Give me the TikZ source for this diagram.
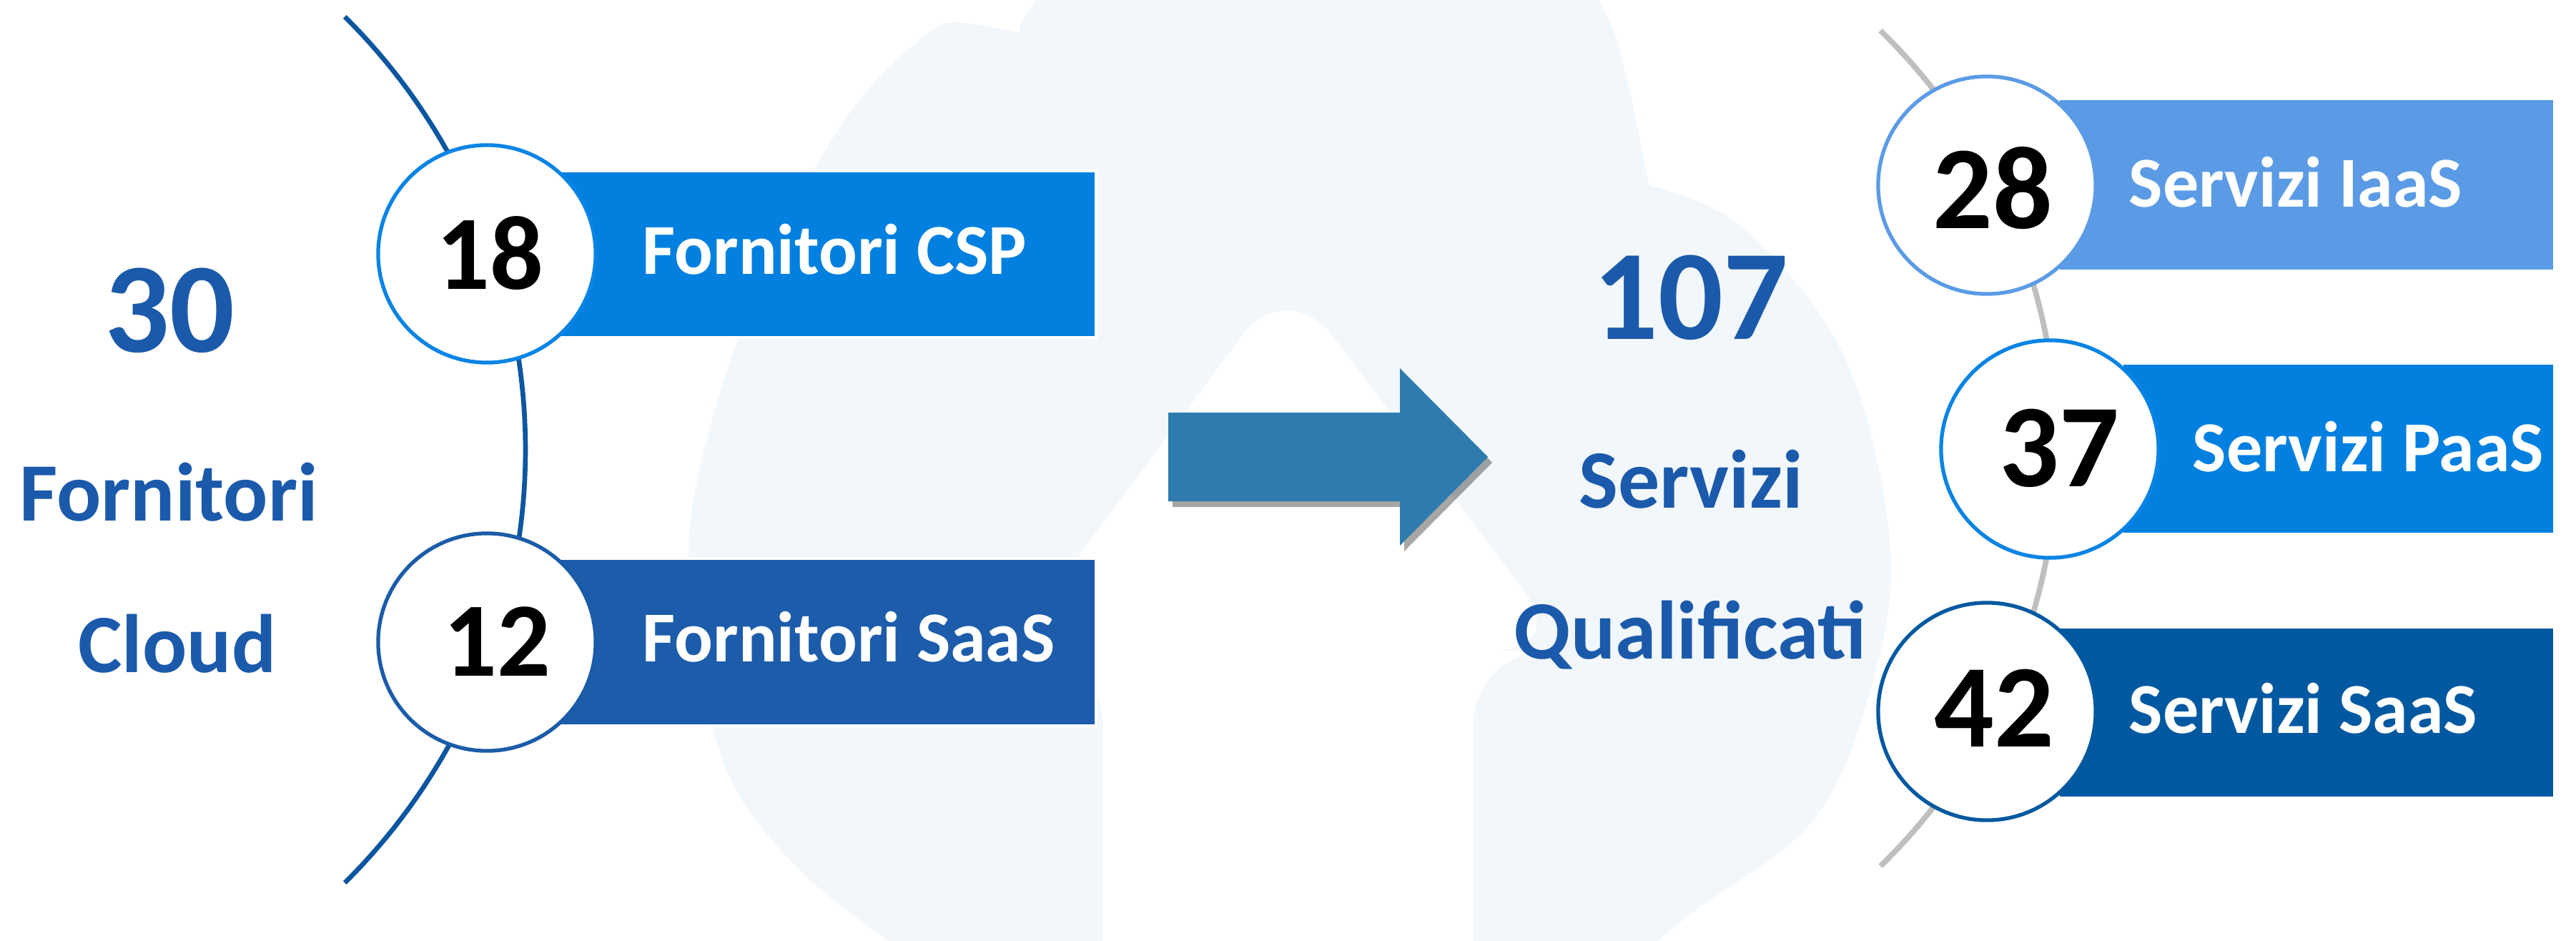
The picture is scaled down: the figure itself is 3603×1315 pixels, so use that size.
\documentclass[tikz,border=0pt]{standalone}
\usepackage{fontspec}
\setmainfont{Carlito}
\definecolor{txtblue}{HTML}{1B5AAB}
\definecolor{cspblue}{HTML}{0280DF}
\definecolor{saasblue}{HTML}{1C5CAB}
\definecolor{ring18}{HTML}{0A84E4}
\definecolor{ring12}{HTML}{1A5CA8}
\definecolor{arcblue}{HTML}{0C56A0}
\definecolor{iaasblue}{HTML}{5B9BE5}
\definecolor{srvsaas}{HTML}{0059A0}
\definecolor{arcgray}{HTML}{BFBFBF}
\definecolor{bigarrow}{HTML}{2E7BAF}
\definecolor{cloudbg}{HTML}{F2F7FB}
\tikzset{
  numcircle/.style={circle, fill=white, line width=1.5pt, minimum size=3.04cm, inner sep=0pt},
  bar/.style={draw=white, line width=1.2pt},
  bignum/.style={font=\bfseries\fontsize{51}{60}\selectfont, text=txtblue, anchor=base, inner sep=0pt},
  biglabel/.style={font=\bfseries\fontsize{33}{40}\selectfont, text=txtblue, anchor=base, inner sep=0pt},
  circnumL/.style={font=\bfseries\fontsize{42}{50}\selectfont, text=black, anchor=base, inner sep=0pt},
  circnumR/.style={font=\bfseries\fontsize{47}{56}\selectfont, text=black, anchor=base, inner sep=0pt},
  barlabel/.style={font=\bfseries\fontsize{28.5}{34}\selectfont, text=white, anchor=base west, inner sep=0pt},
}
\begin{document}
\begin{tikzpicture}[x=0.01cm, y=-0.01cm]
\useasboundingbox (0,0) rectangle (3603,1315);
\fill[white] (0,0) rectangle (3603,1315);
\begin{scope}
\clip (0,0) rectangle (3603,1315);
% cloud background
\fill[cloudbg] (1427,47)
  -- plot[smooth, tension=0.6] coordinates {(1427,47) (1362,34) (1300,45) (1180,170) (1060,400) (980,650) (965,820) (1010,1060) (1103,1201) (1241,1315) (1400,1420)}
  -- (2200,1420)
  -- plot[smooth, tension=0.6] coordinates {(2200,1420) (2357,1284) (2536,1147) (2620,950) (2643,755) (2580,500) (2440,320) (2309,260)}
  -- plot[smooth, tension=0.6] coordinates {(2306,259) (2275,110) (2235,0) (2100,-180) (1850,-250) (1600,-180) (1449,0) (1427,47)}
  -- cycle;
% white up arrow
\fill[white, rounded corners=30] (1543,1420) -- (1543,910) -- (1410,910) -- (1800,385) -- (2195,910) -- (2060,910) -- (2060,1420) -- cycle;
\end{scope}
% arcs
\draw[arcblue, line width=1.9pt] plot[domain=-45.3:45.3, samples=80] ({-117+852*cos(\x)}, {629-852*sin(\x)});
\draw[arcgray, line width=2.2pt] plot[domain=-45.8:45.8, samples=80] ({2062+815*cos(\x)}, {627-815*sin(\x)});
% bars
\path[bar, fill=cspblue] (781,239) rectangle (1533,472);
\path[bar, fill=saasblue] (781,781) rectangle (1533,1015);
\path[bar, fill=iaasblue] (2879,138) rectangle (3573,379);
\path[bar, fill=cspblue] (2968,508) rectangle (3573,747);
\path[bar, fill=srvsaas] (2879,877) rectangle (3573,1116);
% circles
\node[numcircle, draw=ring18] (c18) at (681,355) {};
\node[numcircle, draw=ring12] (c12) at (681,898) {};
\node[numcircle, draw=iaasblue] (c28) at (2779,259) {};
\node[numcircle, draw=ring18] (c37) at (2867,628) {};
\node[numcircle, draw=srvsaas] (c42) at (2779,995) {};
% circle numbers
\node[circnumL] (n18) at (685,404) {18};
\node[circnumL] (n12) at (695,945) {12};
\node[circnumR] (n28) at (2787,319) {28};
\node[circnumR] (n37) at (2880,680) {37};
\node[circnumR] (n42) at (2789,1044) {42};
% bar labels
\node[barlabel] (l1) at (898,383) {Fornitori CSP};
\node[barlabel] (l2) at (898,925) {Fornitori SaaS};
\node[barlabel] (l3) at (2977,289) {Servizi IaaS};
\node[barlabel] (l4) at (3066,659) {Servizi PaaS};
\node[barlabel] (l5) at (2977,1025) {Servizi SaaS};
% left labels
\node[bignum] (t30) at (237,492) {30};
\node[biglabel] (tforn) at (236,728) {Fornitori};
\node[biglabel] (tcloud) at (248,940) {Cloud};
% middle labels
\node[bignum] (t107) at (2365,474) {107};
\node[biglabel] (tserv) at (2365,710) {Servizi};
\node[biglabel] (tqual) at (2364,921) {Qualificati};
% big arrow
\fill[black, opacity=0.35] (1640,585) -- (1964,585) -- (1964,523) -- (2087,647) -- (1964,771) -- (1964,709) -- (1640,709) -- cycle;
\fill[bigarrow] (1634,577) -- (1958,577) -- (1958,515) -- (2081,639) -- (1958,763) -- (1958,701) -- (1634,701) -- cycle;
\end{tikzpicture}
\end{document}
